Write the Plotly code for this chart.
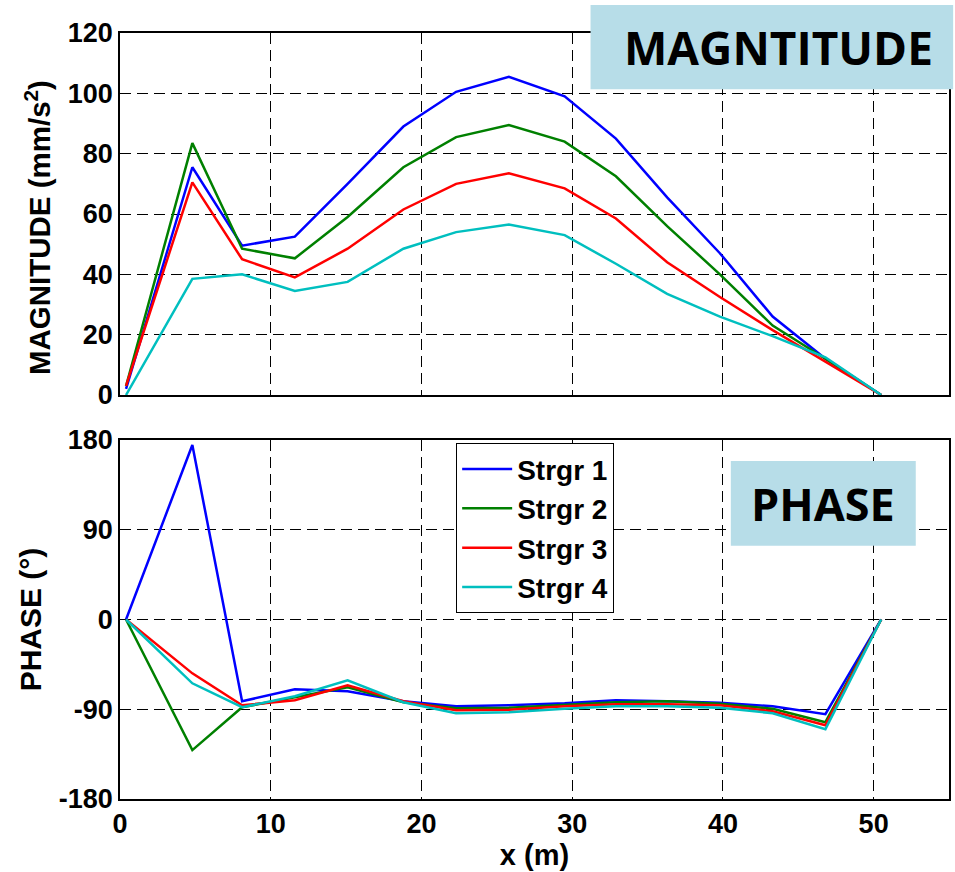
import plotly.graph_objects as go

x_m = [0.4, 4.8, 8.1, 11.6, 15.1, 18.8, 22.3, 25.8, 29.5, 32.9, 36.3, 39.8, 43.3, 46.8, 50.5]

series_names = ["Strgr 1", "Strgr 2", "Strgr 3", "Strgr 4"]
series_colors = ["#0000ff", "#008000", "#ff0000", "#00bfbf"]

mag1 = [2, 75.5, 49.5, 52.5, 70, 89, 100.5, 105.5, 99, 85, 65.5, 47, 26, 12, 0]
mag2 = [3, 83.5, 48.5, 45.3, 59, 75.5, 85.5, 89.5, 84, 72.5, 56, 40, 23, 12, 0]
mag3 = [3, 70.5, 45, 39, 48.5, 61.5, 70, 73.5, 68.5, 58.5, 44, 32.5, 21.5, 11, 0]
mag4 = [0, 38.5, 40, 34.5, 37.5, 48.5, 54, 56.5, 53, 43.5, 33.5, 26, 19.5, 12.5, 0]

phase1 = [0, 175, -82, -70, -72, -82, -87, -86, -84, -81, -82, -83.5, -87, -95, 0]
phase2 = [0, -131, -88, -78, -68, -83, -89, -88.5, -85.5, -83, -82, -84.5, -89.5, -103, 0]
phase3 = [0, -54, -86, -81, -66, -82, -91, -90.5, -87, -85, -85, -86, -92, -106, 0]
phase4 = [0, -64, -88, -77, -61, -83, -94, -93, -89.5, -87, -87, -88.5, -94, -110, 0]

mags = [mag1, mag2, mag3, mag4]
phases = [phase1, phase2, phase3, phase4]

mag_ticks = [0, 20, 40, 60, 80, 100, 120]
phase_ticks = [-180, -90, 0, 90, 180]
phase_ticktext = ["-180", "-90", "0", "90", "180"]
x_ticks = [0, 10, 20, 30, 40, 50]

fig = go.Figure()
for i in range(4):
    fig.add_trace(go.Scatter(x=x_m, y=mags[i], mode="lines", name=series_names[i],
                             line=dict(color=series_colors[i], width=2.5),
                             xaxis="x", yaxis="y", showlegend=False))
for i in range(4):
    fig.add_trace(go.Scatter(x=x_m, y=phases[i], mode="lines", name=series_names[i],
                             line=dict(color=series_colors[i], width=2.5),
                             xaxis="x2", yaxis="y2", legendgroup=f"g{i}"))

axis_common = dict(showline=True, linecolor="black", linewidth=1.5, mirror=True,
                   showgrid=True, gridcolor="black", gridwidth=1, griddash="11px,6px",
                   zeroline=False, ticks="")

fig.update_layout(
    width=955, height=872,
    margin=dict(l=120, r=4, t=33, b=73),
    paper_bgcolor="white", plot_bgcolor="white",
    font=dict(family="Liberation Sans, Arial, sans-serif", size=27, color="black", weight="bold"),
    xaxis=dict(domain=[0, 1], range=[0, 55], tickvals=x_ticks, showticklabels=False,
               anchor="y", **axis_common),
    yaxis=dict(domain=[0.5274, 1], range=[0, 120], tickvals=mag_ticks, anchor="x",
               **axis_common),
    xaxis2=dict(domain=[0, 1], range=[0, 55], tickvals=x_ticks, anchor="y2",
                title=dict(text="x (m)", font=dict(size=29), standoff=3),
                **axis_common),
    yaxis2=dict(domain=[0, 0.4687], range=[-180, 180], tickvals=phase_ticks,
                ticktext=phase_ticktext, anchor="x2",
                title=dict(text="PHASE (°)", font=dict(size=30), standoff=8),
                **axis_common),
    legend=dict(x=0.4055, y=0.4645, xanchor="left", yanchor="top",
                bgcolor="white", bordercolor="black", borderwidth=1,
                font=dict(size=28), traceorder="grouped", tracegroupgap=0,
                itemwidth=50),
    showlegend=True,
)

fig.add_annotation(text="MAGNITUDE (mm/s<sup>2</sup>)", xref="paper", yref="paper",
                   x=-0.1, y=0.7454, textangle=-90, showarrow=False,
                   xanchor="center", yanchor="middle", font=dict(size=29.5))

fig.add_shape(type="rect", xref="paper", yref="paper", x0=0.5676, x1=1.005, y0=0.9265, y1=1.0366,
              fillcolor="#b7dde8", line=dict(width=0), layer="above")
fig.add_shape(type="rect", xref="paper", yref="paper", x0=0.7368, x1=0.9599, y0=0.3307, y1=0.4413,
              fillcolor="#b7dde8", line=dict(width=0), layer="above")
fig.add_annotation(text="MAGNTITUDE", xref="paper", yref="paper", x=(0.5676 + 1.005) / 2 + 0.008,
                   y=(0.9265 + 1.0366) / 2, showarrow=False, xanchor="center", yanchor="middle",
                   font=dict(family="Open Sans, sans-serif", size=46, color="black", weight="bold"))
fig.add_annotation(text="PHASE", xref="paper", yref="paper", x=(0.7368 + 0.9599) / 2,
                   y=(0.3307 + 0.4413) / 2, showarrow=False, xanchor="center", yanchor="middle",
                   font=dict(family="Open Sans, sans-serif", size=45, color="black", weight="bold"))

fig.write_html("out.html")
